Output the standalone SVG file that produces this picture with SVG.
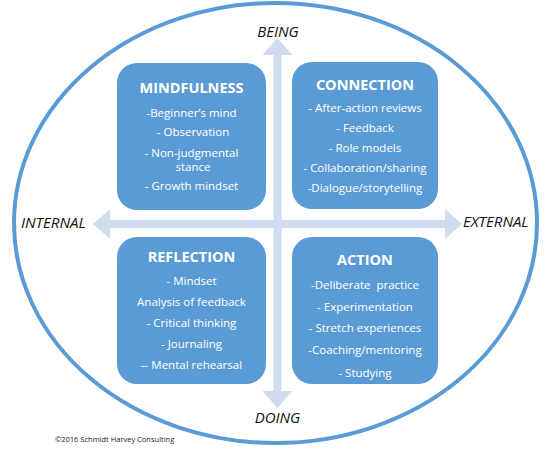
<svg xmlns="http://www.w3.org/2000/svg" width="556" height="450" viewBox="0 0 556 450">
<style>
.box{fill:#5b9bd5;}
.title{font-family:"Open Sans","Liberation Sans",sans-serif;font-weight:bold;font-size:14.5px;fill:#ffffff;text-anchor:middle;}
.item{font-family:"Open Sans","Liberation Sans",sans-serif;font-size:11.5px;fill:#ffffff;text-anchor:middle;white-space:pre;}
.axis{font-family:"Open Sans","Liberation Sans",sans-serif;font-style:italic;font-size:15px;fill:#111111;}
.shaft{stroke:#cfdbee;stroke-width:8;fill:none;}
</style>
<defs>
<marker id="head" markerUnits="userSpaceOnUse" markerWidth="17" markerHeight="30" refX="0" refY="15" orient="auto-start-reverse">
<path d="M0,0 L17,15 L0,30 Z" fill="#cfdbee"/>
</marker>
</defs>
<rect width="556" height="450" fill="#ffffff"/>
<ellipse id="frame" cx="275.5" cy="223" rx="261.5" ry="220" fill="none" stroke="#5b9bd5" stroke-width="4"/>
<g id="connectors">
<line class="shaft" x1="110" y1="224" x2="445" y2="224" marker-start="url(#head)" marker-end="url(#head)"/>
<line class="shaft" x1="277.5" y1="55" x2="277.5" y2="391" marker-start="url(#head)" marker-end="url(#head)"/>
</g>
<g id="mindfulness">
<rect class="box" x="117" y="63" width="149" height="147" rx="20"/>
<text class="title" x="191.5" y="93">MINDFULNESS</text>
<text class="item" x="191.5" y="117">-Beginner’s mind</text>
<text class="item" x="193" y="136">- Observation</text>
<text class="item" x="191.5" y="157">- Non-judgmental</text>
<text class="item" x="193" y="171">stance</text>
<text class="item" x="191.5" y="190">- Growth mindset</text>
</g>
<g id="connection">
<rect class="box" x="292" y="62" width="146" height="147" rx="20"/>
<text class="title" x="365" y="90">CONNECTION</text>
<text class="item" x="365" y="112">- After-action reviews</text>
<text class="item" x="365" y="132">- Feedback</text>
<text class="item" x="365" y="152">- Role models</text>
<text class="item" x="365" y="172">- Collaboration/sharing</text>
<text class="item" x="365" y="192">-Dialogue/storytelling</text>
</g>
<g id="reflection">
<rect class="box" x="117" y="237" width="149" height="147" rx="20"/>
<text class="title" x="191.5" y="262">REFLECTION</text>
<text class="item" x="191.5" y="285">- Mindset</text>
<text class="item" x="191.5" y="306">Analysis of feedback</text>
<text class="item" x="191.5" y="327">- Critical thinking</text>
<text class="item" x="191.5" y="348">- Journaling</text>
<text class="item" x="191.5" y="369">-- Mental rehearsal</text>
</g>
<g id="action">
<rect class="box" x="292" y="237" width="146" height="147" rx="20"/>
<text class="title" x="365" y="265">ACTION</text>
<text class="item" x="365" y="289">-Deliberate  practice</text>
<text class="item" x="365" y="311">- Experimentation</text>
<text class="item" x="365" y="332">- Stretch experiences</text>
<text class="item" x="365" y="354">-Coaching/mentoring</text>
<text class="item" x="365" y="377">- Studying</text>
</g>
<g id="labels">
<text class="axis" x="278" y="37" text-anchor="middle">BEING</text>
<text class="axis" x="277.5" y="423" text-anchor="middle">DOING</text>
<text class="axis" x="21" y="228">INTERNAL</text>
<text class="axis" x="463" y="227">EXTERNAL</text>
<text x="55" y="442" font-family="'Open Sans','Liberation Sans',sans-serif" font-size="7.5" fill="#222222">©2016 Schmidt Harvey Consulting</text>
</g>
</svg>
